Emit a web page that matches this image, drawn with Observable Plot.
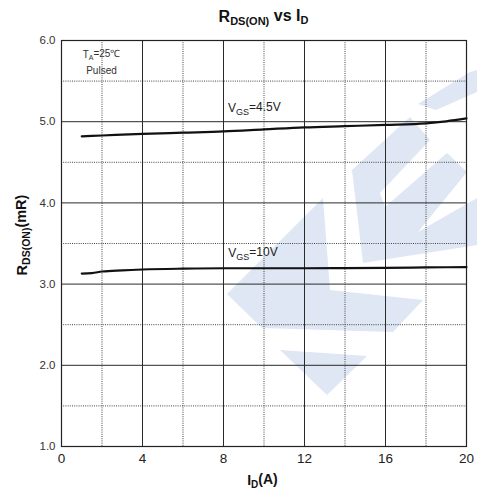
<!DOCTYPE html>
<html>
<head>
<meta charset="utf-8">
<script src="https://cdn.jsdelivr.net/npm/d3@7"></script>
<script src="https://cdn.jsdelivr.net/npm/@observablehq/plot@0.6"></script>
<style>
  html, body { margin: 0; padding: 0; background: #fff; }
  #chart { width: 477px; height: 496px; }
</style>
</head>
<body>
<div id="chart"></div>
<script>
// ---- data ----
const xTicks = [0, 4, 8, 12, 16, 20];
const xMinor = [2, 6, 10, 14, 18];
const yTicks = [1, 2, 3, 4, 5, 6];
const yMinor = [1.5, 2.5, 3.5, 4.5, 5.5];

const id45 = [1, 2, 4, 6, 8, 10, 12, 14, 16, 18, 19, 20];
const r45  = [4.82, 4.83, 4.85, 4.865, 4.88, 4.905, 4.93, 4.945, 4.96, 4.98, 5.005, 5.04];

const id10 = [1, 1.5, 2, 3, 4, 6, 8, 10, 12, 14, 16, 18, 20];
const r10  = [3.13, 3.135, 3.155, 3.17, 3.18, 3.19, 3.195, 3.195, 3.195, 3.197, 3.2, 3.205, 3.21];

const seriesLabels = [
  {main: "V", sub: "GS", rest: "=4.5V", x: 9.55, y: 5.11},
  {main: "V", sub: "GS", rest: "=10V",  x: 9.48, y: 3.33}
];

const d45 = id45.map((x, i) => ({x, y: r45[i]}));
const d10 = id10.map((x, i) => ({x, y: r10[i]}));

const FONT = "'Liberation Sans', Arial, Helvetica, sans-serif";

const chart = Plot.plot({
  width: 477,
  height: 496,
  marginTop: 40,
  marginBottom: 50,
  marginLeft: 61,
  marginRight: 11,
  style: {fontFamily: FONT, background: "transparent", color: "#222"},
  x: {domain: [0, 20], label: null},
  y: {domain: [1, 6], label: null},
  marks: [
    Plot.ruleX(xMinor, {stroke: "#444", strokeWidth: 1, strokeDasharray: "1,1.2"}),
    Plot.ruleY(yMinor, {stroke: "#444", strokeWidth: 1, strokeDasharray: "1,1.2"}),
    Plot.ruleX(xTicks.slice(1, -1), {stroke: "#2a2a2a", strokeWidth: 1}),
    Plot.ruleY(yTicks.slice(1, -1), {stroke: "#2a2a2a", strokeWidth: 1}),
    Plot.frame({stroke: "#222", strokeWidth: 1.2}),
    Plot.line(d45, {x: "x", y: "y", stroke: "#111", strokeWidth: 2.2, curve: "monotone-x"}),
    Plot.line(d10, {x: "x", y: "y", stroke: "#111", strokeWidth: 2.2, curve: "monotone-x"}),
    Plot.axisX({ticks: xTicks, tickSize: 0, tickPadding: 7, fontSize: 13.5, tickFormat: d => String(d), fill: "#222"}),
    Plot.axisY({ticks: yTicks, tickSize: 0, tickPadding: 6, fontSize: 11.5, tickFormat: d => d.toFixed(1), fill: "#333"})
  ]
});

document.getElementById("chart").appendChild(chart);

const svg = d3.select(chart);
const sx = chart.scale("x"), sy = chart.scale("y");

// faint background watermark (decorative, not data)
const WATERMARK = [
  [[418,104],[470,72],[477,70],[477,92],[436,110]],
  [[363,263],[352,170],[410,117],[430,140],[380,193],[385,207],[447,153],[467,172],[418,232],[477,198],[477,245]],
  [[227,294],[323,198],[330,290],[423,300],[393,332],[262,328]],
  [[280,350],[367,356],[327,395]]
];
const wm = svg.insert("g", ":scope > :not(style)").attr("aria-label", "watermark");
WATERMARK.forEach(p => wm.append("polygon")
  .attr("points", p.map(q => q.join(",")).join(" "))
  .attr("fill", "#dfe6f4"));

function subText(g, parts, attrs) {
  const t = g.append("text");
  Object.entries(attrs).forEach(([k, v]) => t.attr(k, v));
  parts.forEach(([s, sub, size]) => {
    const ts = t.append("tspan").text(s);
    if (size) ts.attr("font-size", size);
    if (sub === 1) ts.attr("dy", "0.3em");
    if (sub === -1) ts.attr("dy", "-0.3em");
  });
  return t;
}

const cx = (sx.apply(0) + sx.apply(20)) / 2;
const cy = (sy.apply(1) + sy.apply(6)) / 2;
const ann = svg.append("g").attr("font-family", FONT);

// title
subText(ann, [["R", 0], ["DS(ON)", 1, 11], [" vs I", -1], ["D", 1, 11]],
  {x: cx, y: 22, "text-anchor": "middle", "font-weight": "bold", "font-size": 16, fill: "#111"});

// x label
subText(ann, [["I", 0], ["D", 1, 10], ["(A)", -1]],
  {x: cx - 1, y: 485, "text-anchor": "middle", "font-weight": "bold", "font-size": 14, fill: "#111"});

// y label
subText(ann, [["R", 0], ["DS(ON)", 1, 10.5], ["(mR)", -1]],
  {transform: `translate(27,${cy - 8}) rotate(-90)`, "text-anchor": "middle", "font-weight": "bold", "font-size": 14.5, fill: "#111"});

// condition note
subText(ann, [["T", 0], ["A", 1, 7], ["=25\u2103", -1]],
  {x: sx.apply(2), y: sy.apply(5.78), "text-anchor": "middle", "font-size": 10, fill: "#333"});
ann.append("text").attr("x", sx.apply(2)).attr("y", sy.apply(5.585))
  .attr("text-anchor", "middle").attr("font-size", 10).attr("fill", "#333").text("Pulsed");

// series labels
seriesLabels.forEach(l => {
  subText(ann, [[l.main, 0], [l.sub, 1, 9], [l.rest, -1]],
    {x: sx.apply(l.x), y: sy.apply(l.y), "font-size": 12, fill: "#222"});
});
</script>
</body>
</html>
